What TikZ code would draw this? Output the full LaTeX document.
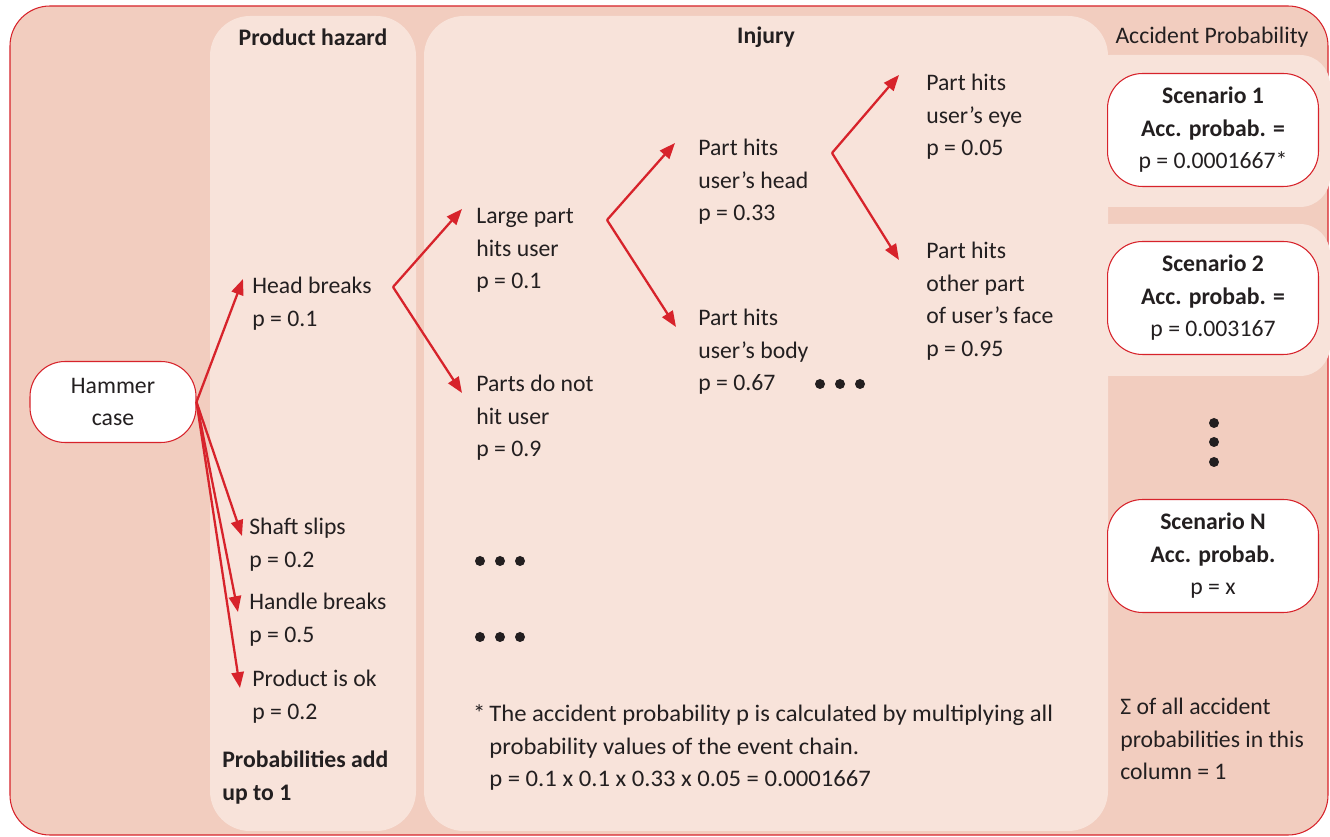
\documentclass[tikz,border=0pt]{standalone}
\usepackage{fontspec}
\setmainfont{Carlito}
\newfontfamily\notefont[FakeStretch=1.04]{Carlito}
\usetikzlibrary{arrows.meta}

\definecolor{bgdark}{HTML}{F2CDBF}
\definecolor{bglight}{HTML}{F8E3DA}
\definecolor{hzred}{HTML}{D7232B}
\definecolor{txtgrey}{HTML}{231F20}

\begin{document}
\begin{tikzpicture}[x=0.02cm,y=-0.02cm,
	every node/.style={inner sep=0pt, text=txtgrey, font=\fontsize{13.5}{18.5}\selectfont},
	lbl/.style={anchor=base west, align=left},
	colhead/.style={font=\fontsize{13.5}{18.5}\selectfont\bfseries},
	scenbox/.style={draw=hzred, fill=white, line width=0.6pt, rounded corners=0.7cm, minimum width=4.22cm, minimum height=2.26cm, align=center},
	arr/.style={hzred, line width=1.3pt, -{Triangle[length=9pt,width=7pt]}}]
	\useasboundingbox (0,0) rectangle (1330,837);
	% frame and columns
	\fill [white] (0,0) rectangle (1330,837);
	\draw [hzred, fill=bgdark, line width=0.6pt, rounded corners=0.8cm] (10,6) rectangle (1328,835);
	\fill [bglight, rounded corners=0.8cm] (210,16) rectangle (416,831);
	\fill [bglight, rounded corners=0.8cm] (424,16) rectangle (1108,831);
	\fill [bglight, rounded corners=0.6cm] (1080,55) rectangle (1330,207);
	\fill [bglight, rounded corners=0.6cm] (1080,224) rectangle (1330,376);
	\node [colhead] (hazardhead) at (313,37) {Product hazard};
	\node [colhead] (injuryhead) at (766,37) {Injury};
	\node (probhead) at (1212,37) {Accident Probability};
	% start
	\node [scenbox, minimum width=3.32cm, minimum height=1.62cm] (hammer) at (113,402) {Hammer\\case};
	% product hazard (base = last line)
	\node [lbl] (headbreaks) at (252,326.5) {Head breaks\\p = 0.1};
	\node [lbl] (shaft) at (249,567.5) {Shaft slips\\p = 0.2};
	\node [lbl] (handle) at (249,642.5) {Handle breaks\\p = 0.5};
	\node [lbl] (prodok) at (252,719.5) {Product is ok\\p = 0.2};
	\node [lbl, font=\fontsize{13.5}{18.5}\selectfont\bfseries] (addup) at (222,800.5) {Probabilities add\\up to 1};
	\draw [arr] (hammer.east) -- ([shift={(-9,-47.5)}]headbreaks.base west);
	\draw [arr] (hammer.east) -- ([shift={(-7,-31.5)}]shaft.base west);
	\draw [arr] (hammer.east) -- ([shift={(-11,-30.5)}]handle.base west);
	\draw [arr] (hammer.east) -- ([shift={(-12,-31.5)}]prodok.base west);
	% injury
	\node [lbl] (largepart) at (476,289) {Large part\\hits user\\p = 0.1};
	\node [lbl] (nohit) at (476,457) {Parts do not\\hit user\\p = 0.9};
	\node [lbl] (userhead) at (698,221) {Part hits\\user's head\\p = 0.33};
	\node [lbl] (userbody) at (698,391) {Part hits\\user's body\\p = 0.67};
	\node [lbl] (usereye) at (926,156) {Part hits\\user's eye\\p = 0.05};
	\node [lbl] (userface) at (926,356.5) {Part hits\\other part\\of user's face\\p = 0.95};
	\coordinate (forka) at (393,287);
	\coordinate (forkb) at (607,220);
	\coordinate (forkc) at (832,153);
	\draw [arr] (forka) -- ([shift={(-14,-80)}]largepart.base west);
	\draw [arr] (forka) -- ([shift={(-14,-64)}]nohit.base west);
	\draw [arr] (forkb) -- ([shift={(-23,-78)}]userhead.base west);
	\draw [arr] (forkb) -- ([shift={(-22,-64)}]userbody.base west);
	\draw [arr] (forkc) -- ([shift={(-27,-81)}]usereye.base west);
	\draw [arr] (forkc) -- ([shift={(-27,-96.5)}]userface.base west);
	\foreach \x in {820,840,860} \fill [txtgrey] (\x,384) circle [radius=0.1cm];
	\foreach \x in {480,500,520} {
		\fill [txtgrey] (\x,561) circle [radius=0.1cm];
		\fill [txtgrey] (\x,637) circle [radius=0.1cm];
	}
	\node [lbl, font=\notefont\fontsize{13.5}{18.5}\selectfont] (footnote) at (489,787) {\llap{*\,}The accident probability p is calculated by multiplying all\\probability values of the event chain.\\p = 0.1 x 0.1 x 0.33 x 0.05 = 0.0001667};
	% accident probability
	\node [scenbox] (scen1) at (1213,130) {\textbf{Scenario 1}\\\textbf{Acc. probab. =}\\p = 0.0001667*};
	\node [scenbox] (scen2) at (1213,298) {\textbf{Scenario 2}\\\textbf{Acc. probab. =}\\p = 0.003167};
	\node [scenbox] (scenN) at (1213,556) {\textbf{Scenario N}\\\textbf{Acc. probab.}\\p = x};
	\foreach \y in {423,442,462} \fill [txtgrey] (1214,\y) circle [radius=0.1cm];
	\node [lbl] (sumnote) at (1120,780) {Σ of all accident\\probabilities in this\\column = 1};
\end{tikzpicture}
\end{document}
